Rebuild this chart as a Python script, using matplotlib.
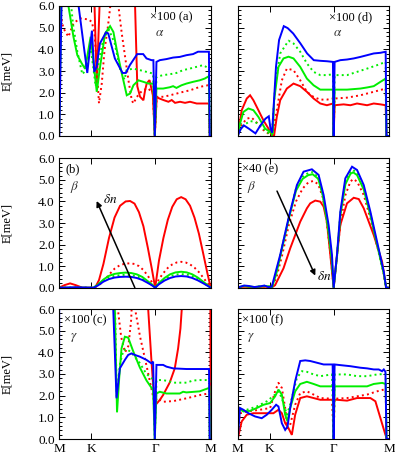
import matplotlib
matplotlib.use("Agg")
import matplotlib.pyplot as plt
from matplotlib.ticker import MultipleLocator, FormatStrFormatter

plt.rcParams['font.family'] = ['Liberation Serif', 'DejaVu Serif']
plt.rcParams['mathtext.fontset'] = 'stix'

# path coordinates: M -> K -> Gamma -> M
TICK_POS = [0.0, 0.577, 1.732, 2.732]
TICK_LABELS = ['M', 'K', 'Γ', 'M']

# ---------------- panel (a): alpha, x100 ----------------
a_red = [(0.0, 0.0), (0.03, 7.5), (0.62, 7.5), (0.64, 6.0), (0.68, 2.4), (0.73, 6.0), (0.75, 7.5),
         (1.35, 7.5), (1.37, 6.0), (1.41, 2.3), (1.46, 1.81), (1.52, 1.65), (1.55, 2.1), (1.58, 2.43),
         (1.63, 2.58), (1.65, 2.35), (1.69, 1.89), (1.725, 0.0), (1.76, 1.81), (1.80, 1.74),
         (1.88, 1.66), (1.97, 1.58), (2.03, 1.66), (2.09, 1.53), (2.18, 1.58), (2.27, 1.53),
         (2.36, 1.58), (2.48, 1.5), (2.60, 1.5), (2.70, 1.5), (2.715, 0.0), (2.732, 0.0)]
a_red_dot = [(0.0, 0.0), (0.01, 6.5), (0.02, 5.66), (0.08, 4.97), (0.17, 4.58), (0.26, 5.2),
             (0.38, 5.43), (0.53, 5.38), (0.59, 5.27), (0.64, 4.74), (0.68, 3.2), (0.72, 1.51),
             (0.77, 2.42), (0.82, 3.97), (0.88, 5.04), (0.92, 5.9), (0.95, 7.5), (1.05, 7.5),
             (1.07, 6.0), (1.13, 4.74), (1.19, 3.66), (1.25, 2.58), (1.31, 1.66), (1.34, 1.5),
             (1.40, 1.8), (1.50, 2.1), (1.60, 2.2), (1.69, 2.0), (1.725, 0.0), (1.76, 1.81),
             (1.88, 1.81), (2.00, 1.88), (2.12, 1.96), (2.24, 2.04), (2.36, 2.11), (2.54, 2.27),
             (2.68, 2.34), (2.70, 2.2), (2.715, 0.0), (2.732, 0.0)]
a_green = [(0.0, 0.0), (0.05, 7.5), (0.16, 7.5), (0.17, 6.0), (0.26, 4.58), (0.33, 3.73),
           (0.41, 3.35), (0.47, 3.1), (0.57, 4.58), (0.68, 2.04), (0.74, 3.2), (0.83, 4.73),
           (0.92, 5.07), (0.98, 4.8), (1.04, 3.98), (1.13, 2.9), (1.22, 1.88), (1.28, 1.96),
           (1.34, 2.34), (1.43, 2.57), (1.52, 2.5), (1.61, 2.42), (1.70, 2.42), (1.725, 0.0),
           (1.755, 2.19), (1.875, 2.19), (1.995, 2.25), (2.055, 2.3), (2.115, 2.22), (2.205, 2.34),
           (2.295, 2.42), (2.414, 2.5), (2.534, 2.57), (2.624, 2.65), (2.70, 2.76), (2.715, 0.0),
           (2.732, 0.0)]
a_green_dot = [(0.0, 0.0), (0.05, 7.5), (0.20, 7.5), (0.22, 6.0), (0.25, 5.2), (0.33, 3.9),
               (0.42, 2.85), (0.50, 3.1), (0.56, 4.2), (0.60, 3.5), (0.66, 2.3), (0.72, 3.5),
               (0.80, 4.5), (0.90, 4.9), (1.00, 4.3), (1.10, 3.1), (1.18, 2.6), (1.216, 3.04),
               (1.336, 3.11), (1.456, 3.04), (1.576, 2.96), (1.695, 2.88), (1.725, 0.0),
               (1.755, 2.73), (1.875, 2.81), (1.995, 2.85), (2.115, 2.91), (2.235, 3.04),
               (2.354, 3.11), (2.474, 3.19), (2.594, 3.27), (2.70, 3.12), (2.715, 0.0), (2.732, 0.0)]
a_blue = [(0.0, 0.0), (0.006, 0.0), (0.054, 7.5), (0.33, 7.5), (0.353, 6.0), (0.509, 2.91),
          (0.593, 4.86), (0.635, 2.96), (0.677, 3.2), (0.737, 4.27), (0.845, 4.78), (0.887, 4.73),
          (1.006, 3.58), (1.144, 2.91), (1.204, 2.91), (1.276, 3.27), (1.408, 3.78), (1.516, 3.78),
          (1.576, 3.58), (1.666, 3.5), (1.70, 3.5), (1.725, 0.0), (1.755, 3.42), (1.815, 3.5),
          (1.935, 3.55), (2.055, 3.62), (2.175, 3.65), (2.295, 3.73), (2.414, 3.78), (2.504, 3.89),
          (2.70, 3.89), (2.715, 0.0), (2.732, 0.0)]

# ---------------- panel (b): beta ----------------
b_red = [(0.0, 0.0), (0.1, 0.12), (0.2, 0.2), (0.3, 0.12), (0.42, 0.0), (0.65, 0.0), (0.72, 0.35),
         (0.8, 1.1), (0.9, 2.3), (1.0, 3.25), (1.1, 3.8), (1.2, 4.0), (1.28, 4.02), (1.36, 3.9),
         (1.44, 3.5), (1.52, 2.85), (1.6, 1.85), (1.67, 0.9), (1.732, 0.0), (1.8, 1.25),
         (1.88, 2.3), (1.96, 3.15), (2.04, 3.75), (2.12, 4.1), (2.2, 4.2), (2.28, 4.1),
         (2.36, 3.8), (2.44, 3.25), (2.52, 2.5), (2.6, 1.55), (2.67, 0.7), (2.732, 0.0)]
b_red_dot = [(0.0, 0.0), (0.6, 0.0), (0.7, 0.08), (0.8, 0.3), (0.9, 0.6), (1.0, 0.88), (1.1, 1.05),
             (1.2, 1.12), (1.28, 1.13), (1.36, 1.1), (1.44, 1.0), (1.52, 0.82), (1.6, 0.55),
             (1.67, 0.27), (1.732, 0.0), (1.8, 0.4), (1.88, 0.68), (1.96, 0.92), (2.04, 1.08),
             (2.12, 1.17), (2.2, 1.2), (2.28, 1.17), (2.36, 1.08), (2.44, 0.93), (2.52, 0.72),
             (2.6, 0.46), (2.67, 0.22), (2.732, 0.0)]
b_green = [(0.0, 0.0), (0.62, 0.0), (0.7, 0.14), (0.8, 0.38), (0.9, 0.55), (1.0, 0.64), (1.1, 0.68),
           (1.2, 0.7), (1.3, 0.68), (1.4, 0.62), (1.5, 0.5), (1.6, 0.3), (1.68, 0.14), (1.732, 0.0),
           (1.8, 0.22), (1.9, 0.45), (2.0, 0.62), (2.1, 0.71), (2.2, 0.74), (2.3, 0.71), (2.4, 0.62),
           (2.5, 0.47), (2.6, 0.27), (2.68, 0.11), (2.732, 0.0)]
b_green_dot = [(0.0, 0.0), (0.62, 0.0), (0.7, 0.12), (0.8, 0.33), (0.9, 0.47), (1.0, 0.55),
               (1.1, 0.58), (1.2, 0.6), (1.3, 0.58), (1.4, 0.53), (1.5, 0.42), (1.6, 0.26),
               (1.68, 0.12), (1.732, 0.0), (1.8, 0.19), (1.9, 0.39), (2.0, 0.53), (2.1, 0.61),
               (2.2, 0.63), (2.3, 0.61), (2.4, 0.53), (2.5, 0.4), (2.6, 0.23), (2.68, 0.09), (2.732, 0.0)]
b_blue = [(0.0, 0.0), (0.3, 0.02), (0.62, 0.0), (0.7, 0.1), (0.8, 0.28), (0.9, 0.4), (1.0, 0.47),
          (1.1, 0.5), (1.2, 0.51), (1.3, 0.5), (1.4, 0.45), (1.5, 0.36), (1.6, 0.22), (1.68, 0.1),
          (1.732, 0.0), (1.8, 0.16), (1.9, 0.33), (2.0, 0.45), (2.1, 0.52), (2.2, 0.54), (2.3, 0.52),
          (2.4, 0.45), (2.5, 0.34), (2.6, 0.2), (2.68, 0.08), (2.732, 0.0)]

# ---------------- panel (c): gamma, x100 ----------------
c_red = [(0.0, 7.5), (1.58, 7.5), (1.606, 6.0), (1.666, 3.57), (1.708, 2.03), (1.737, 1.57),
         (1.815, 1.8), (1.875, 2.03), (1.995, 2.61), (2.085, 3.26), (2.145, 4.18), (2.187, 5.1),
         (2.211, 6.0), (2.24, 7.5), (2.725, 7.5), (2.732, 0.0)]
c_red_dot = [(1.00, 7.5), (1.06, 6.0), (1.12, 4.7), (1.19, 4.0), (1.25, 4.3), (1.30, 5.5),
             (1.33, 7.5), (1.35, 7.5), (1.37, 6.0), (1.46, 4.72), (1.58, 3.34), (1.67, 2.26),
             (1.725, 1.6), (1.76, 1.88), (1.88, 1.72), (2.06, 1.75), (2.30, 1.88), (2.54, 2.03),
             (2.69, 2.1), (2.71, 2.1), (2.715, 0.0)]
c_green = [(0.98, 7.5), (1.006, 6.0), (1.045, 1.23), (1.084, 2.8), (1.126, 4.18), (1.186, 4.72),
           (1.246, 4.68), (1.336, 4.05), (1.456, 3.3), (1.576, 2.7), (1.695, 2.25), (1.725, 0.0),
           (1.755, 2.1), (1.815, 2.18), (1.935, 2.1), (2.175, 2.1), (2.235, 2.18), (2.295, 2.15),
           (2.534, 2.2), (2.684, 2.34), (2.71, 2.34), (2.715, 0.0)]
c_green_dot = [(0.98, 7.5), (1.01, 6.0), (1.04, 1.9), (1.10, 3.5), (1.16, 4.1), (1.22, 4.15),
               (1.30, 4.0), (1.456, 3.5), (1.576, 3.0), (1.695, 2.75), (1.725, 0.0), (1.755, 2.72),
               (1.875, 2.72), (1.995, 2.65), (2.055, 2.6), (2.175, 2.6), (2.295, 2.6), (2.414, 2.7),
               (2.534, 2.72), (2.71, 2.72), (2.715, 0.0)]
c_blue = [(0.0, 0.0), (0.004, 7.5), (0.95, 7.5), (0.977, 6.0), (1.036, 1.88), (1.096, 3.26),
          (1.186, 3.65), (1.246, 3.88), (1.306, 3.95), (1.366, 3.88), (1.456, 3.8), (1.576, 3.65),
          (1.666, 3.49), (1.695, 3.57), (1.725, 0.0), (1.755, 3.42), (1.875, 3.42), (1.935, 3.34),
          (2.055, 3.26), (2.295, 3.23), (2.702, 3.23), (2.714, 0.0), (2.732, 0.0)]

# ---------------- panel (d): alpha, x100 ----------------
d_red = [(0.0, 0.0), (0.072, 1.19), (0.163, 1.73), (0.223, 1.88), (0.283, 1.65), (0.373, 1.19),
         (0.464, 0.72), (0.554, 0.34), (0.614, 0.03), (0.656, 0.03), (0.704, 0.88), (0.765, 1.65),
         (0.885, 2.19), (1.005, 2.42), (1.126, 2.3), (1.246, 2.04), (1.367, 1.73), (1.487, 1.5),
         (1.607, 1.42), (1.716, 1.5), (1.728, 0.0), (1.745, 1.42), (1.908, 1.46), (2.029, 1.42),
         (2.149, 1.5), (2.33, 1.42), (2.45, 1.5), (2.571, 1.46), (2.665, 1.42), (2.679, 0.0), (2.732, 0.0)]
d_red_dot = [(0.0, 0.0), (0.07, 0.5), (0.16, 0.8), (0.25, 0.85), (0.35, 0.6), (0.45, 0.3),
             (0.56, 0.1), (0.62, 0.03), (0.704, 1.19), (0.795, 2.57), (0.885, 3.11), (1.005, 3.04),
             (1.126, 2.57), (1.246, 2.04), (1.367, 1.8), (1.487, 1.68), (1.607, 1.68), (1.716, 1.73),
             (1.728, 0.0), (1.745, 1.73), (1.969, 1.77), (2.209, 1.88), (2.45, 2.04), (2.665, 2.19),
             (2.679, 0.0), (2.732, 0.0)]
d_green = [(0.0, 0.0), (0.042, 0.57), (0.102, 1.11), (0.193, 1.27), (0.283, 1.19), (0.373, 0.88),
           (0.494, 0.34), (0.584, 0.19), (0.632, 0.1), (0.656, 1.65), (0.734, 3.19), (0.825, 3.58),
           (0.915, 3.66), (1.005, 3.58), (1.126, 3.19), (1.246, 2.65), (1.367, 2.34), (1.487, 2.14),
           (1.607, 2.14), (1.716, 2.14), (1.728, 0.0), (1.745, 2.14), (1.969, 2.14), (2.209, 2.19),
           (2.33, 2.24), (2.45, 2.3), (2.571, 2.5), (2.665, 2.65), (2.679, 0.0), (2.732, 0.0)]
d_green_dot = [(0.0, 0.0), (0.042, 0.26), (0.102, 0.49), (0.223, 0.69), (0.313, 0.65), (0.403, 0.49),
               (0.524, 0.19), (0.614, 0.03), (0.674, 2.27), (0.765, 3.81), (0.915, 4.4), (1.005, 4.27),
               (1.126, 3.89), (1.246, 3.35), (1.367, 2.96), (1.487, 2.81), (1.607, 2.81), (1.716, 2.85),
               (1.728, 0.0), (1.745, 2.81), (1.969, 2.81), (2.149, 2.96), (2.33, 3.11), (2.51, 3.27),
               (2.665, 3.42), (2.679, 0.0), (2.732, 0.0)]
d_blue = [(0.0, 0.0), (0.05, 0.3), (0.11, 0.49), (0.2, 0.34), (0.32, 0.12), (0.41, 0.49), (0.5, 0.8),
          (0.56, 0.91), (0.59, 0.35), (0.62, 0.15), (0.66, 1.9), (0.69, 3.2), (0.745, 4.43),
          (0.83, 5.07), (0.9, 4.98), (1.0, 4.73), (1.13, 4.27), (1.25, 3.81), (1.37, 3.5),
          (1.49, 3.47), (1.61, 3.45), (1.715, 3.42), (1.728, 0.0), (1.745, 3.42), (1.848, 3.5),
          (1.969, 3.53), (2.089, 3.58), (2.209, 3.65), (2.33, 3.73), (2.45, 3.81), (2.571, 3.84),
          (2.665, 3.89), (2.679, 0.0), (2.732, 0.0)]

# ---------------- panel (e): beta, x40 ----------------
e_red = [(0.0, 0.0), (0.1, 0.05), (0.3, 0.02), (0.5, 0.05), (0.62, 0.02), (0.674, 0.12), (0.825, 0.9),
         (0.945, 1.82), (1.126, 3.06), (1.246, 3.68), (1.306, 3.91), (1.397, 4.04), (1.487, 3.99),
         (1.547, 3.76), (1.607, 3.06), (1.668, 1.52), (1.728, 0.0), (1.788, 1.52), (1.848, 2.91),
         (1.968, 3.91), (2.089, 4.17), (2.18, 4.11), (2.27, 3.68), (2.45, 2.44), (2.6, 1.21),
         (2.673, 0.0), (2.732, 0.0)]
e_red_dot = [(0.0, 0.0), (0.1, 0.06), (0.3, 0.03), (0.5, 0.06), (0.62, 0.03), (0.70, 0.5),
             (0.80, 1.5), (0.92, 2.9), (1.05, 4.0), (1.17, 4.6), (1.27, 4.88), (1.36, 4.95),
             (1.45, 4.8), (1.53, 4.2), (1.60, 3.1), (1.67, 1.6), (1.728, 0.0), (1.79, 1.5),
             (1.85, 3.0), (1.94, 4.3), (2.03, 4.92), (2.08, 5.04), (2.15, 4.92), (2.27, 4.3),
             (2.39, 3.2), (2.51, 1.95), (2.63, 0.65), (2.673, 0.0), (2.732, 0.0)]
e_green = [(0.0, 0.0), (0.1, 0.08), (0.3, 0.03), (0.5, 0.08), (0.62, 0.03), (0.70, 0.7),
           (0.78, 1.6), (0.92, 3.2), (1.05, 4.5), (1.17, 5.05), (1.27, 5.22), (1.35, 5.26),
           (1.45, 5.05), (1.53, 4.3), (1.62, 2.9), (1.69, 1.4), (1.728, 0.0), (1.79, 1.5),
           (1.85, 3.4), (1.94, 4.8), (2.03, 5.28), (2.08, 5.35), (2.15, 5.22), (2.27, 4.55),
           (2.39, 3.35), (2.51, 2.0), (2.63, 0.65), (2.673, 0.0), (2.732, 0.0)]
e_green_dot = [(0.0, 0.0), (0.1, 0.09), (0.3, 0.03), (0.5, 0.09), (0.62, 0.03), (0.70, 0.75),
               (0.78, 1.65), (0.92, 3.25), (1.05, 4.6), (1.17, 5.15), (1.27, 5.32), (1.35, 5.36),
               (1.45, 5.12), (1.53, 4.35), (1.62, 2.95), (1.69, 1.45), (1.728, 0.0), (1.79, 1.5),
               (1.85, 3.45), (1.94, 4.9), (2.03, 5.38), (2.08, 5.46), (2.15, 5.32), (2.27, 4.62),
               (2.39, 3.4), (2.51, 2.05), (2.63, 0.68), (2.673, 0.0), (2.732, 0.0)]
e_blue = [(0.0, 0.0), (0.05, 0.05), (0.12, 0.1), (0.2, 0.08), (0.3, 0.03), (0.4, 0.06), (0.48, 0.1),
          (0.55, 0.03), (0.614, 0.05), (0.765, 1.52), (0.915, 3.22), (1.066, 4.76), (1.186, 5.38),
          (1.336, 5.49), (1.457, 5.23), (1.547, 4.3), (1.637, 2.91), (1.698, 1.52), (1.728, 0.0),
          (1.788, 1.52), (1.848, 3.52), (1.938, 5.07), (2.059, 5.61), (2.149, 5.46), (2.27, 4.76),
          (2.39, 3.52), (2.51, 2.13), (2.631, 0.74), (2.673, 0.0), (2.732, 0.0)]

# ---------------- panel (f): gamma, x100 ----------------
f_red = [(0.0, 0.0), (0.072, 0.81), (0.163, 1.12), (0.283, 1.19), (0.524, 1.19), (0.644, 1.19),
         (0.734, 1.35), (0.795, 1.19), (0.855, 0.73), (0.915, 0.5), (0.975, 0.19), (1.035, 1.12),
         (1.126, 1.89), (1.246, 1.97), (1.367, 1.89), (1.487, 1.81), (1.698, 1.81), (1.788, 1.81),
         (1.969, 1.77), (2.149, 1.89), (2.27, 1.89), (2.39, 1.89), (2.48, 1.74), (2.571, 0.96),
         (2.661, 0.19), (2.69, 0.0), (2.732, 0.0)]
f_red_dot = [(0.0, 0.0), (0.042, 1.19), (0.163, 1.27), (0.403, 1.35), (0.584, 1.43), (0.674, 2.2),
             (0.734, 2.59), (0.795, 2.36), (0.855, 1.43), (0.897, 0.5), (0.945, 0.65), (1.035, 1.58),
             (1.126, 2.12), (1.246, 2.2), (1.367, 2.05), (1.487, 1.89), (1.698, 1.86), (1.728, 0.0),
             (1.745, 1.86), (1.969, 1.89), (2.149, 1.97), (2.33, 2.05), (2.51, 2.2), (2.631, 2.28),
             (2.665, 2.28), (2.679, 0.0), (2.732, 0.0)]
f_green = [(0.0, 0.0), (0.02, 1.43), (0.102, 1.27), (0.223, 1.3), (0.343, 1.43), (0.464, 1.58),
           (0.584, 1.66), (0.674, 1.97), (0.734, 2.28), (0.795, 2.05), (0.855, 1.12), (0.897, 0.81),
           (0.945, 1.43), (1.035, 2.2), (1.126, 2.54), (1.246, 2.64), (1.367, 2.54), (1.487, 2.43),
           (1.716, 2.43), (1.728, 0.0), (1.745, 2.43), (2.33, 2.43), (2.45, 2.54), (2.601, 2.59),
           (2.665, 2.54), (2.679, 0.0), (2.732, 0.0)]
f_green_dot = [(0.0, 0.0), (0.02, 1.3), (0.163, 1.35), (0.343, 1.5), (0.524, 1.74), (0.674, 2.05),
               (0.734, 2.2), (0.795, 1.89), (0.885, 1.12), (0.945, 1.58), (1.066, 2.82), (1.156, 3.13),
               (1.246, 3.1), (1.367, 2.98), (1.487, 2.9), (1.698, 2.98), (1.728, 0.0), (1.745, 2.98),
               (1.969, 2.98), (2.149, 2.9), (2.33, 2.9), (2.51, 2.98), (2.665, 3.0), (2.679, 0.0),
               (2.732, 0.0)]
f_blue = [(0.0, 0.0), (0.042, 1.43), (0.102, 1.35), (0.193, 1.19), (0.313, 1.04), (0.433, 0.96),
          (0.524, 1.12), (0.614, 1.35), (0.692, 1.58), (0.734, 1.5), (0.795, 0.73), (0.855, 0.42),
          (0.897, 0.57), (0.945, 1.43), (1.035, 2.67), (1.126, 3.6), (1.216, 3.63), (1.306, 3.6),
          (1.427, 3.52), (1.547, 3.44), (1.71, 3.44), (1.728, 0.0), (1.745, 3.44), (1.848, 3.41),
          (2.029, 3.36), (2.209, 3.29), (2.33, 3.26), (2.45, 3.21), (2.54, 3.21), (2.6, 3.13),
          (2.631, 3.21), (2.661, 3.1), (2.679, 0.0), (2.732, 0.0)]

PANEL_LABELS = ['×100 (a)', '(b)', '×100 (c)', '×100 (d)', '×40 (e)', '×100 (f)']
GREEK = [r'$\alpha$', r'$\beta$', r'$\gamma$', r'$\alpha$', r'$\beta$', r'$\gamma$']

RED, GREEN, BLUE = '#ff0000', '#00ee00', '#0000ff'

fig = plt.figure(figsize=(3.95, 4.58), dpi=100)
W, H = 395.0, 458.0
col_x = [59.0, 237.7]
col_w = 151.7
rows = [(6.0, 136.0), (158.3, 287.7), (309.0, 439.0)]

series_sets = [
    [a_red_dot, a_red, a_green_dot, a_green, a_blue],
    [b_red_dot, b_red, b_green_dot, b_green, b_blue],
    [c_red_dot, c_red, c_green_dot, c_green, c_blue],
    [d_red_dot, d_red, d_green_dot, d_green, d_blue],
    [e_red_dot, e_red, e_green_dot, e_green, e_blue],
    [f_red_dot, f_red, f_green_dot, f_green, f_blue],
]
styles = [(RED, ':'), (RED, '-'), (GREEN, ':'), (GREEN, '-'), (BLUE, '-')]

label_pos = [(0.60, 0.915, 0.63, 0.79), (0.04, 0.915, 0.07, 0.78), (0.03, 0.915, 0.07, 0.78),
             (0.60, 0.915, 0.63, 0.79), (0.03, 0.915, 0.06, 0.78), (0.03, 0.915, 0.06, 0.78)]

axes = []
for col in range(2):
    for row in range(3):
        idx = col * 3 + row
        top, bot = rows[row]
        ax = fig.add_axes([col_x[col] / W, 1 - bot / H, col_w / W, (bot - top) / H])
        axes.append(ax)
        for data, (c, ls) in zip(series_sets[idx], styles):
            xs = [p[0] for p in data]
            ys = [p[1] for p in data]
            ax.plot(xs, ys, color=c, ls=ls, lw=1.4,
                    dash_capstyle='butt', solid_joinstyle='miter')
        ax.set_xlim(0, 2.732)
        ax.set_ylim(0, 6)
        ax.set_xticks(TICK_POS)
        ax.set_yticks([0, 1, 2, 3, 4, 5, 6])
        ax.yaxis.set_minor_locator(MultipleLocator(0.2))
        ax.yaxis.set_major_formatter(FormatStrFormatter('%.1f'))
        ax.tick_params(which='both', direction='in', top=True, right=True, width=0.7,
                       labelsize=9.5, pad=3)
        ax.tick_params(which='major', length=4)
        ax.tick_params(which='minor', length=2)
        for sp in ax.spines.values():
            sp.set_linewidth(0.8)
        if row == 2:
            ax.set_xticklabels(TICK_LABELS)
        else:
            ax.set_xticklabels([])
        if col == 0:
            ax.set_ylabel('E[meV]', fontsize=9)
            ax.yaxis.set_label_coords(-0.30, 0.5)
        else:
            ax.set_yticklabels([])
        lx, ly, gx, gy = label_pos[idx]
        ax.text(lx, ly, PANEL_LABELS[idx], transform=ax.transAxes, fontsize=9,
                ha='left', va='center')
        ax.text(gx, gy, GREEK[idx], transform=ax.transAxes, fontsize=9.5,
                ha='left', va='center', color='#333333')

# arrows for delta n
ax_b = axes[1]
ax_b.annotate('', xy=(0.678, 4.02), xytext=(1.366, 0.0),
              arrowprops=dict(arrowstyle='-|>', color='black', lw=1.1, mutation_scale=8,
                              shrinkA=0, shrinkB=0))
ax_b.text(0.80, 4.08, r'$\delta n$', fontsize=9.5, ha='left', va='center')
ax_e = axes[4]
ax_e.annotate('', xy=(1.397, 0.56), xytext=(0.708, 4.48),
              arrowprops=dict(arrowstyle='-|>', color='black', lw=1.1, mutation_scale=8,
                              shrinkA=0, shrinkB=0))
ax_e.text(1.43, 0.51, r'$\delta n$', fontsize=9.5, ha='left', va='center')

fig.savefig('out.png', dpi=100)
